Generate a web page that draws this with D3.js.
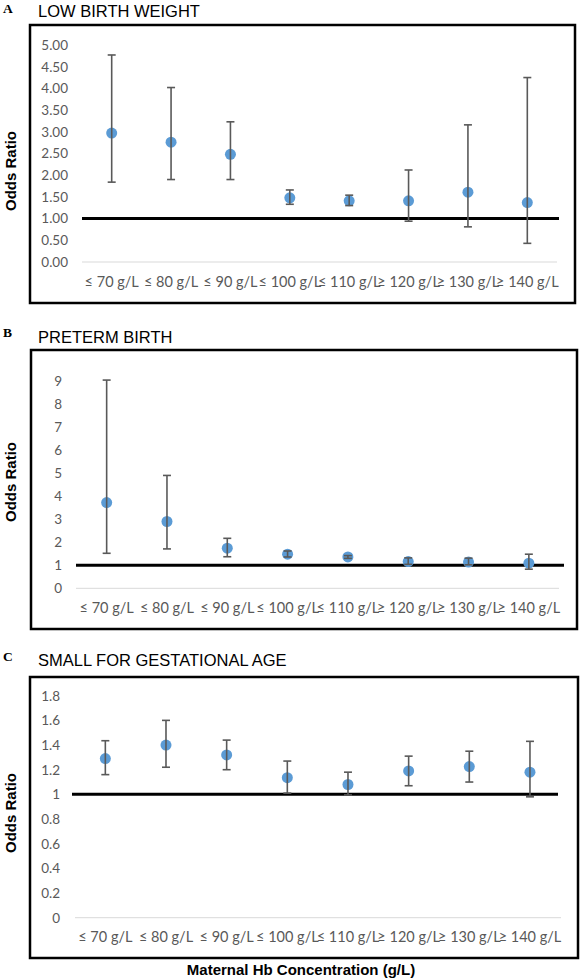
<!DOCTYPE html>
<html>
<head>
<meta charset="utf-8">
<script src="https://cdn.jsdelivr.net/npm/d3@7"></script>
<style>
  html, body { margin: 0; padding: 0; background: #fff; }
  svg { display: block; }
</style>
</head>
<body>
<svg id="chart" width="582" height="980"></svg>
<script>
// ---------- DATA ----------
const categories = ["≤ 70 g/L", "≤ 80 g/L", "≤ 90 g/L", "≤ 100 g/L", "≤ 110 g/L", "≥ 120 g/L", "≥ 130 g/L", "≥ 140 g/L"];

const lbwOR    = [2.97, 2.76, 2.48, 1.48, 1.41, 1.41, 1.61, 1.37];
const lbwLower = [1.84, 1.90, 1.90, 1.33, 1.30, 0.94, 0.81, 0.43];
const lbwUpper = [4.77, 4.02, 3.23, 1.66, 1.54, 2.12, 3.16, 4.25];
const lbwTicks = [0, 0.5, 1, 1.5, 2, 2.5, 3, 3.5, 4, 4.5, 5];

const ptbOR    = [3.72, 2.90, 1.74, 1.48, 1.36, 1.16, 1.14, 1.09];
const ptbLower = [1.52, 1.71, 1.37, 1.36, 1.30, 1.04, 1.02, 0.83];
const ptbUpper = [9.04, 4.90, 2.17, 1.62, 1.42, 1.32, 1.31, 1.48];
const ptbTicks = [0, 1, 2, 3, 4, 5, 6, 7, 8, 9];

const sgaOR    = [1.29, 1.40, 1.32, 1.135, 1.08, 1.19, 1.225, 1.18];
const sgaLower = [1.16, 1.22, 1.20, 1.01, 0.995, 1.07, 1.10, 0.98];
const sgaUpper = [1.435, 1.60, 1.44, 1.27, 1.18, 1.31, 1.35, 1.43];
const sgaTicks = [0, 0.2, 0.4, 0.6, 0.8, 1, 1.2, 1.4, 1.6, 1.8];

const panelLetters = ["A", "B", "C"];
const panelTitles = ["LOW BIRTH WEIGHT", "PRETERM BIRTH", "SMALL FOR GESTATIONAL AGE"];
const yTitle = "Odds Ratio";
const xTitle = "Maternal Hb Concentration (g/L)";
const refValue = 1;

// ---------- LAYOUT ----------
const svg = d3.select("#chart");
const pointColor = "#5B9BD5";
const barColor = "#595959";
const tickColor = "#595959";

const panels = [
  { or: lbwOR, lo: lbwLower, hi: lbwUpper, ticks: lbwTicks, fmt: d3.format(".2f"), max: 5,
    box: [30, 25, 575, 303], x: [82, 557], y: [262, 45], tickX: 68, labY: 287,
    titleY: 17, letterY: 13, yTitleY: 171, grid: [82, 557], ref: [82, 559] },
  { or: ptbOR, lo: ptbLower, hi: ptbUpper, ticks: ptbTicks, fmt: d3.format("d"), max: 9,
    box: [31, 350, 577, 629], x: [76.5, 559], y: [588.3, 381], tickX: 62, labY: 613,
    titleY: 343, letterY: 337, yTitleY: 482, grid: [76, 559], ref: [76, 564] },
  { or: sgaOR, lo: sgaLower, hi: sgaUpper, ticks: sgaTicks, fmt: d => String(+d.toFixed(1)), max: 1.8,
    box: [30, 677, 578, 958], x: [75, 560.3], y: [917.7, 695.7], tickX: 60, labY: 942,
    titleY: 666, letterY: 661, yTitleY: 813, grid: [75, 561], ref: [72, 558] }
];

panels.forEach((p, i) => {
  const g = svg.append("g");
  const [bx0, by0, bx1, by1] = p.box;

  // panel letter and title
  g.append("text").attr("x", 3).attr("y", p.letterY)
    .attr("font-family", "Liberation Serif, Times New Roman, serif")
    .attr("font-weight", "bold").attr("font-size", 13.5).attr("fill", "#000")
    .text(panelLetters[i]);
  g.append("text").attr("x", 38).attr("y", p.titleY)
    .attr("font-family", "Liberation Sans, Arial, sans-serif")
    .attr("font-size", 16.5).attr("fill", "#000")
    .text(panelTitles[i]);

  // box
  g.append("rect").attr("x", bx0).attr("y", by0)
    .attr("width", bx1 - bx0).attr("height", by1 - by0)
    .attr("fill", "none").attr("stroke", "#000").attr("stroke-width", 2.5);

  const x = d3.scaleBand().domain(categories).range(p.x);
  const y = d3.scaleLinear().domain([0, p.max]).range(p.y);

  // y axis (tick labels only)
  const yAxis = d3.axisLeft(y).tickValues(p.ticks).tickFormat(p.fmt).tickSize(0).tickPadding(0);
  const ya = g.append("g").attr("transform", `translate(${p.tickX},0)`).call(yAxis);
  ya.select(".domain").remove();
  ya.selectAll("text").attr("font-family", "Lato, Calibri, sans-serif")
    .attr("font-size", 13.5).attr("fill", tickColor);

  // x axis labels
  const xAxis = d3.axisBottom(x).tickSize(0).tickPadding(0);
  const xa = g.append("g").attr("transform", `translate(0,${p.labY})`).call(xAxis);
  xa.select(".domain").remove();
  xa.selectAll("text").attr("font-family", "Lato, Calibri, sans-serif")
    .attr("font-size", 14.5).attr("fill", tickColor).attr("dy", 0);

  // baseline gridline at 0
  g.append("line").attr("x1", p.grid[0]).attr("x2", p.grid[1])
    .attr("y1", y(0)).attr("y2", y(0))
    .attr("stroke", "#D9D9D9").attr("stroke-width", 1);

  // reference line at OR = 1
  g.append("line").attr("x1", p.ref[0]).attr("x2", p.ref[1])
    .attr("y1", y(refValue)).attr("y2", y(refValue))
    .attr("stroke", "#000").attr("stroke-width", 3);

  const rows = categories.map((c, k) => ({ c, or: p.or[k], lo: p.lo[k], hi: p.hi[k] }));
  const cx = d => x(d.c) + x.bandwidth() / 2;

  // points
  g.selectAll("circle.pt").data(rows).enter().append("circle")
    .attr("cx", cx).attr("cy", d => y(d.or)).attr("r", 5.5)
    .attr("fill", pointColor);

  // error bars
  const eb = g.selectAll("g.eb").data(rows).enter().append("g")
    .attr("stroke", barColor).attr("stroke-width", 1.6);
  eb.append("line").attr("x1", cx).attr("x2", cx)
    .attr("y1", d => y(d.lo)).attr("y2", d => y(d.hi));
  eb.append("line").attr("x1", d => cx(d) - 4).attr("x2", d => cx(d) + 4)
    .attr("y1", d => y(d.hi)).attr("y2", d => y(d.hi));
  eb.append("line").attr("x1", d => cx(d) - 4).attr("x2", d => cx(d) + 4)
    .attr("y1", d => y(d.lo)).attr("y2", d => y(d.lo));

  // y title
  g.append("text")
    .attr("transform", `translate(16,${p.yTitleY}) rotate(-90)`)
    .attr("text-anchor", "middle")
    .attr("font-family", "Liberation Sans, Arial, sans-serif")
    .attr("font-weight", "bold").attr("font-size", 15).attr("fill", "#000")
    .text(yTitle);
});

// x axis title
svg.append("text").attr("x", 301).attr("y", 975)
  .attr("text-anchor", "middle")
  .attr("font-family", "Liberation Sans, Arial, sans-serif")
  .attr("font-weight", "bold").attr("font-size", 15).attr("fill", "#000")
  .text(xTitle);
</script>
</body>
</html>
